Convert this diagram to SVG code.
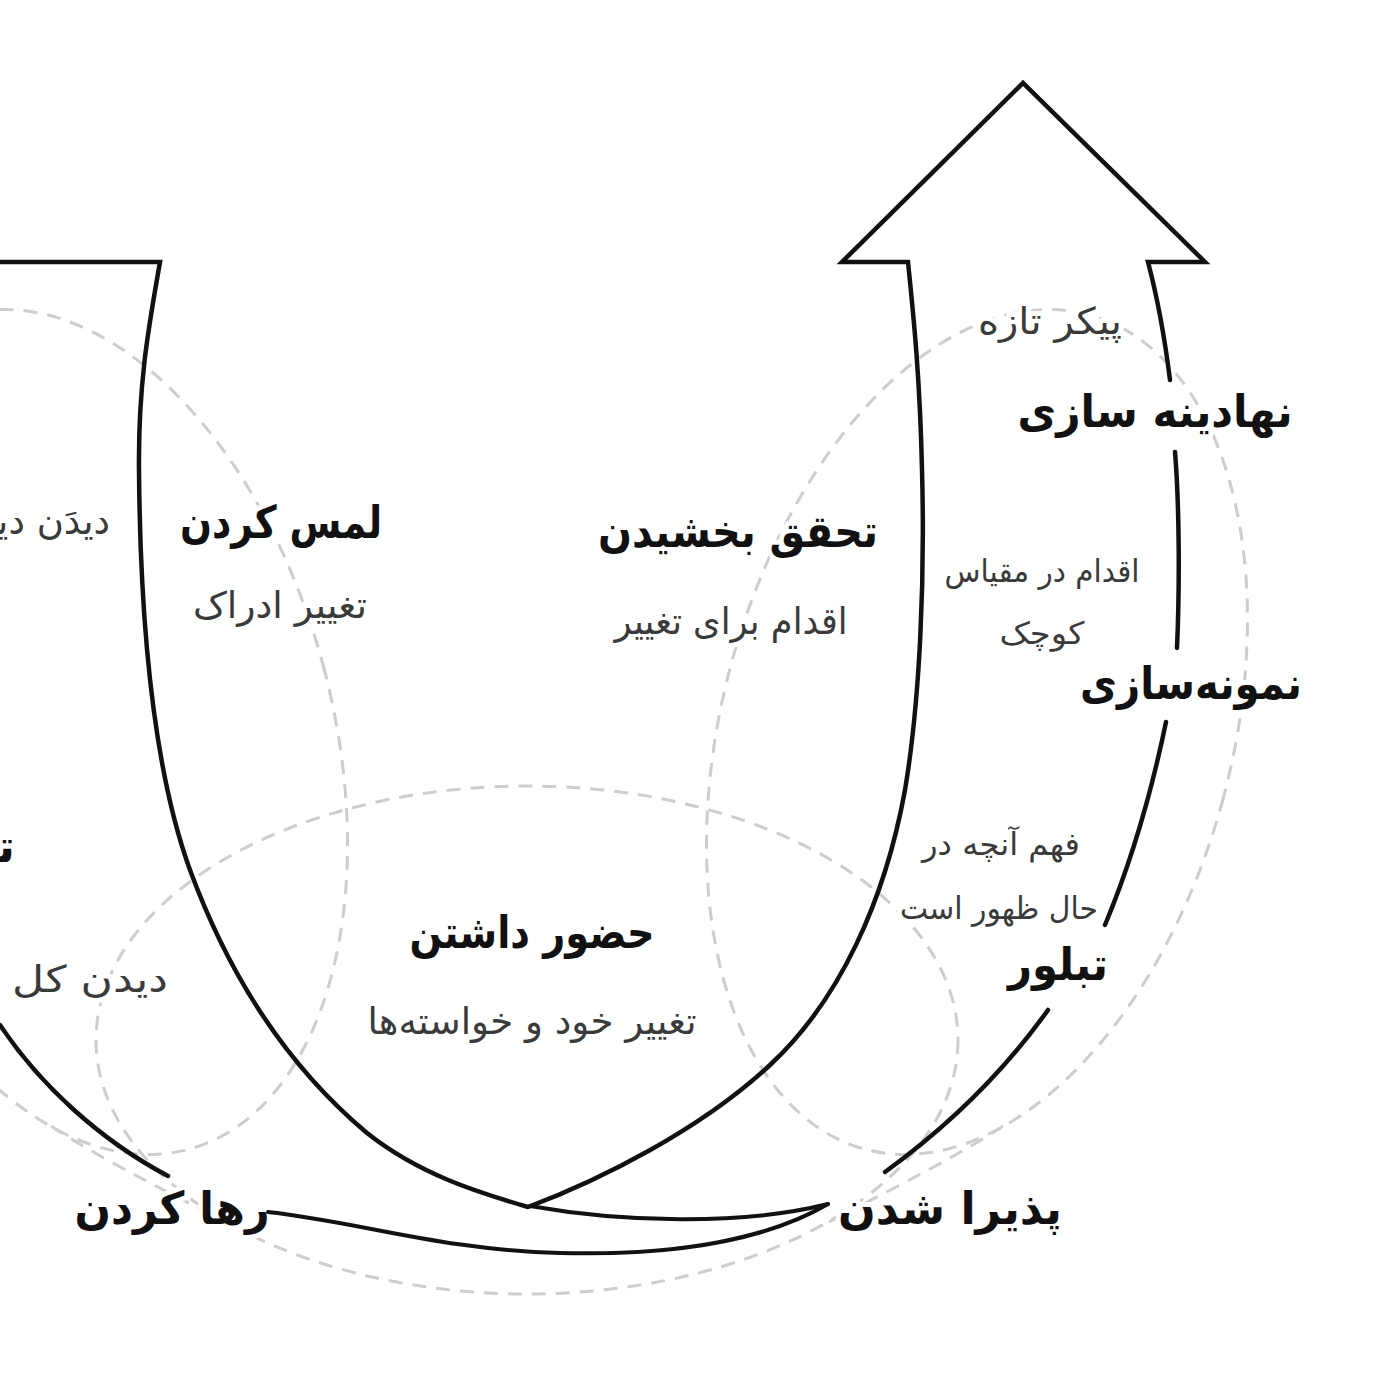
<svg xmlns="http://www.w3.org/2000/svg" width="1400" height="1400" viewBox="0 0 1400 1400">
<style>
.dash{fill:none;stroke:#cdcdcd;stroke-width:3;stroke-dasharray:14 10}
.solid{fill:none;stroke:#111;stroke-width:4.5;stroke-linejoin:miter;stroke-linecap:round}
.thin{fill:none;stroke:#111;stroke-width:4;stroke-linecap:round}
text{font-family:"DejaVu Sans","Noto Sans",sans-serif;text-anchor:middle;paint-order:stroke;stroke:#fff;stroke-width:10;stroke-linejoin:round}
.b{font-weight:bold;font-size:45px;fill:#111}
.g{font-size:37px;fill:#3a3a3a}
.s{font-size:31px;fill:#3a3a3a}
</style>
<rect width="1400" height="1400" fill="#fff"/>
<g id="guides">
<ellipse class="dash" cx="527" cy="1040" rx="431" ry="254"/>
<ellipse class="dash" cx="977" cy="732" rx="255" ry="432" transform="rotate(15 977 732)"/>
<ellipse class="dash" cx="77" cy="732" rx="255" ry="432" transform="rotate(-15 77 732)"/>
<path class="dash" d="M1003,1126 C960,1155 890,1190 829,1222"/>
<path class="dash" d="M51,1126 C94,1155 164,1190 225,1222"/>
</g>
<g id="n-lams"><text class="b" x="281" y="538" direction="rtl" textLength="202" lengthAdjust="spacingAndGlyphs">لمس کردن</text><text class="g" x="280" y="618" direction="rtl" textLength="174" lengthAdjust="spacingAndGlyphs">تغییر ادراک</text></g>
<g id="n-tahaqqoq"><text class="b" x="738" y="547" direction="rtl" textLength="280" lengthAdjust="spacingAndGlyphs">تحقق بخشیدن</text><text class="g" x="731" y="634" direction="rtl" textLength="233" lengthAdjust="spacingAndGlyphs">اقدام برای تغییر</text></g>
<g id="n-hozur"><text class="b" x="532" y="948" direction="rtl" textLength="245" lengthAdjust="spacingAndGlyphs">حضور داشتن</text><text class="g" x="532" y="1034" direction="rtl" textLength="329" lengthAdjust="spacingAndGlyphs">تغییر خود و خواسته‌ها</text></g>
<g id="n-nahadineh"><text class="g" x="1050" y="334" direction="rtl" textLength="144" lengthAdjust="spacingAndGlyphs">پیکر تازه</text><text class="b" x="1155" y="427" direction="rtl" textLength="275" lengthAdjust="spacingAndGlyphs">نهادینه سازی</text></g>
<g id="n-nemuneh"><text class="s" x="1042" y="582" direction="rtl" textLength="195" lengthAdjust="spacingAndGlyphs">اقدام در مقیاس</text><text class="s" x="1042" y="644" direction="rtl" textLength="85" lengthAdjust="spacingAndGlyphs">کوچک</text><text class="b" x="1191" y="699" direction="rtl" textLength="222" lengthAdjust="spacingAndGlyphs">نمونه‌سازی</text></g>
<g id="n-tabalvor"><text class="s" x="1001" y="855" direction="rtl" textLength="158" lengthAdjust="spacingAndGlyphs">فهم آنچه در</text><text class="s" x="999" y="919" direction="rtl" textLength="198" lengthAdjust="spacingAndGlyphs">حال ظهور است</text><text class="b" x="1058" y="980" direction="rtl" textLength="100" lengthAdjust="spacingAndGlyphs">تبلور</text></g>
<g id="n-pazira"><text class="b" x="950" y="1224" direction="rtl" textLength="224" lengthAdjust="spacingAndGlyphs">پذیرا شدن</text></g>
<g id="n-raha"><text class="b" x="172" y="1224" direction="rtl" textLength="195" lengthAdjust="spacingAndGlyphs">رها کردن</text></g>
<g id="n-left"><text class="g" x="110" y="534" direction="rtl" style="text-anchor:start">دیدَن دی‍</text><text class="b" x="15" y="862" direction="rtl" style="text-anchor:start">ت‍</text><text class="g" x="90" y="992" direction="rtl" textLength="156" lengthAdjust="spacingAndGlyphs">دیدن کل</text></g>
<g id="connectors">
<path class="solid" d="M0,262 L160,262 C150,320 138,380 139,470 C140,600 150,760 190,870 C225,965 280,1060 367,1133 C420,1175 480,1193 528,1207 C600,1180 700,1130 770,1065 C840,1000 885,900 905,790 C920,700 925,580 922,470 C920,380 914,320 908,262 L842,262 L1023,83 L1205,262 L1148,262 C1158,300 1165,340 1170,380"/>
<path class="solid" d="M1175,452 C1179,500 1180,580 1177,648"/>
<path class="solid" d="M1166,722 C1152,790 1132,860 1105,925"/>
<path class="solid" d="M1048,1010 C1005,1070 950,1125 885,1172"/>
<path class="solid" d="M0,1025 C40,1085 100,1140 168,1176"/>
<path class="thin" d="M530,1206 C620,1222 740,1226 828,1204"/>
<path class="thin" d="M268,1212 C360,1222 440,1250 560,1253 C680,1256 770,1238 828,1204"/>
</g>
</svg>
